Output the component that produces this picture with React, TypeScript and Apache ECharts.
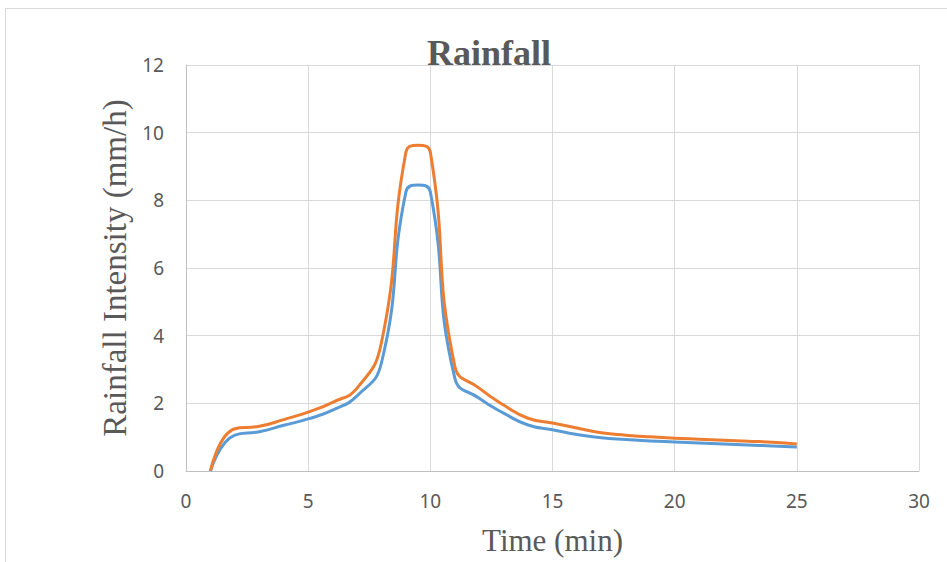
import React, { useEffect, useRef } from "react";
import * as echarts from "echarts";

const times = [1, 2, 3, 4, 5, 6, 7, 8, 9, 9.5, 10, 11, 12, 13, 14, 15, 16, 17, 18, 19, 20, 21, 22, 23, 24, 25];
const seriesBlue = [0, 1.06, 1.16, 1.35, 1.54, 1.8, 2.22, 3.2, 8.25, 8.45, 8.25, 2.75, 2.15, 1.71, 1.36, 1.22, 1.08, 0.98, 0.93, 0.89, 0.86, 0.83, 0.8, 0.77, 0.74, 0.71];
const seriesOrange = [0, 1.25, 1.32, 1.52, 1.74, 2.03, 2.45, 3.8, 9.42, 9.63, 9.42, 3.1, 2.45, 1.95, 1.56, 1.42, 1.27, 1.13, 1.06, 1.01, 0.97, 0.94, 0.91, 0.88, 0.85, 0.8];
const xTicks = { min: 0, max: 30, interval: 5 };
const yTicks = { min: 0, max: 12, interval: 2 };

export default function App() {
  const ref = useRef<HTMLDivElement>(null);
  useEffect(() => {
    document.body.style.margin = "0";
    const chart = echarts.init(ref.current!, null, { renderer: "svg" });
    const labelFont = { fontFamily: "'Noto Sans', 'Open Sans', sans-serif", fontSize: 19, color: "#595959" };
    chart.setOption({
      animation: false,
      backgroundColor: "#ffffff",
      title: {
        text: "Rainfall",
        left: 484,
        top: 30,
        textAlign: "center",
        textStyle: { fontFamily: "'Liberation Serif', 'Times New Roman', serif", fontWeight: "bold", fontSize: 36, color: "#595959" },
      },
      graphic: [
        { type: "rect", shape: { x: 5.5, y: 8.5, width: 1200, height: 1200 }, style: { fill: "none", stroke: "#d9d9d9", lineWidth: 1 }, silent: true, z: -1 },
      ],
      grid: { left: 186, right: 28, top: 65, bottom: 91, containLabel: false, outerBoundsMode: "none" },
      xAxis: {
        type: "value",
        min: xTicks.min,
        max: xTicks.max,
        interval: xTicks.interval,
        name: "Time (min)",
        nameLocation: "middle",
        nameGap: 54,
        nameTextStyle: { fontFamily: "'Liberation Serif', 'Times New Roman', serif", fontSize: 31, color: "#595959" },
        axisLine: { show: true, lineStyle: { color: "#bfbfbf", width: 1 } },
        axisTick: { show: false },
        axisLabel: { ...labelFont, margin: 20 },
        splitLine: { show: true, lineStyle: { color: "#d9d9d9", width: 1 } },
      },
      yAxis: {
        type: "value",
        min: yTicks.min,
        max: yTicks.max,
        interval: yTicks.interval,
        name: "Rainfall Intensity (mm/h)",
        nameLocation: "middle",
        nameGap: 55,
        nameTextStyle: { fontFamily: "'Liberation Serif', 'Times New Roman', serif", fontSize: 33, color: "#595959" },
        axisLine: { show: true, lineStyle: { color: "#bfbfbf", width: 1 } },
        axisTick: { show: false },
        axisLabel: { ...labelFont, margin: 22 },
        splitLine: { show: true, lineStyle: { color: "#d9d9d9", width: 1 } },
      },
      series: [
        {
          name: "Blue",
          type: "line",
          data: times.map((t, i) => [t, seriesBlue[i]]),
          smooth: 0.5,
          showSymbol: false,
          lineStyle: { color: "#5b9bd5", width: 3 },
          itemStyle: { color: "#5b9bd5" },
          z: 2,
        },
        {
          name: "Orange",
          type: "line",
          data: times.map((t, i) => [t, seriesOrange[i]]),
          smooth: 0.5,
          showSymbol: false,
          lineStyle: { color: "#ed7d31", width: 3 },
          itemStyle: { color: "#ed7d31" },
          z: 3,
        },
      ],
    });
    return () => chart.dispose();
  }, []);
  return <div ref={ref} style={{ width: 947, height: 562 }} />;
}
